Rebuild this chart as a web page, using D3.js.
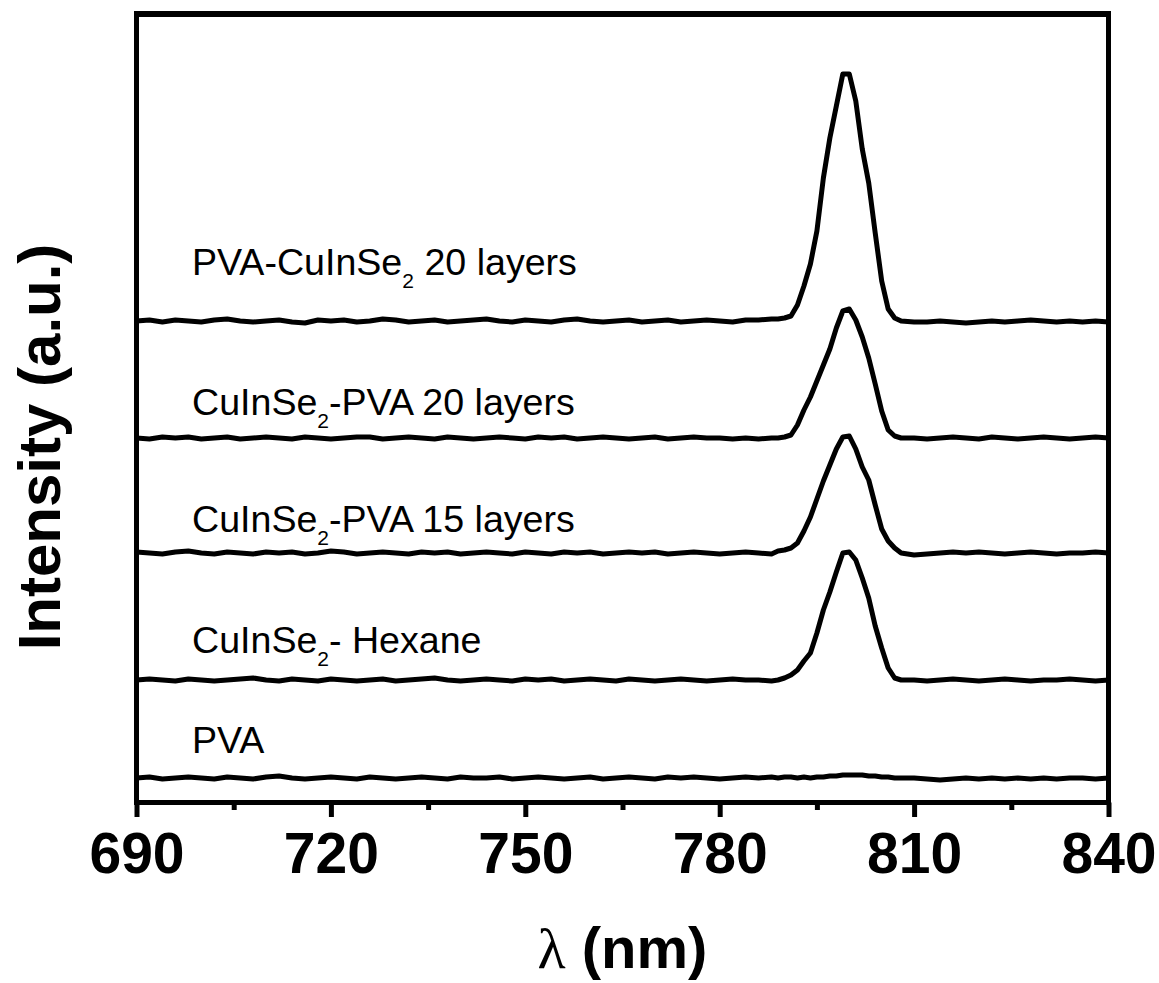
<!DOCTYPE html>
<html>
<head>
<meta charset="utf-8">
<script src="https://cdn.jsdelivr.net/npm/d3@7"></script>
<style>
  html, body { margin: 0; padding: 0; background: #fff; }
  svg { display: block; }
  text { font-family: "Liberation Sans", Arial, Helvetica, sans-serif; fill: #000; }
</style>
</head>
<body>
<svg id="chart" width="1159" height="983"></svg>
<script>
// Photoluminescence spectra, stacked with vertical offsets (a.u.)
const wavelengths = [
  690,692,694,696,698,700,702,704,706,708,710,712,714,716,718,720,722,724,726,728,
  730,732,734,736,738,740,742,744,746,748,750,752,754,756,758,760,762,764,766,768,
  770,772,774,776,778,780,782,784,786,788,
  789,790,791,792,793,794,795,796,797,798,799,800,801,802,803,804,805,806,807,808,
  810,812,814,816,818,820,822,824,826,828,830,832,834,836,838,840
];

const seriesNames = [
  "PVA-CuInSe_2 20 layers",
  "CuInSe_2-PVA 20 layers",
  "CuInSe_2-PVA 15 layers",
  "CuInSe_2- Hexane",
  "PVA"
];

// Vertical offset of each spectrum in the stack
const offsets = [481, 364, 249, 122, 24];

// Level (same units) at which each label's baseline sits
const labelLevels = [527, 387, 270, 149, 49];

const pvaCuInSe20 = [
  0,1,-1,1,0,-1,1,2,0,-1, 0,1,-1,-2,1,0,1,-1,0,2, 1,-1,0,1,-1,0,1,2,0,-1,
  1,0,-1,1,2,0,-1,0,1,-1, 0,1,-1,0,1,0,-1,1,1,2,
  2,3,5,16,35,57,90,143,183,215,247,247,220,172,138,88,40,12,3,0,
  -1,-1,0,-1,-2,-1,0,-1,0,1,0,-1,0,-1,0,-1
];
const cuInSePva20 = [
  0,-1,1,0,1,-1,0,1,-1,0, 1,0,-1,1,0,-1,0,1,1,-1, 0,1,0,-1,1,0,-1,0,1,0,
  -1,1,0,1,-1,0,1,0,-1,0, 1,-1,0,1,0,0,-1,0,-1,0,
  0,1,3,13,28,41,57,73,89,110,127,129,118,101,80,54,27,8,2,0,
  0,-1,0,1,0,-1,1,0,-1,0,1,0,-1,0,1,0
];
const cuInSePva15 = [
  1,0,-1,1,2,0,-1,1,0,-1, 1,0,1,-1,0,2,1,-1,0,1, 0,-1,1,0,1,-1,0,1,0,-1,
  1,0,-1,1,0,1,-1,0,1,0, 1,-1,0,1,0,-1,0,1,0,-1,
  2,3,5,10,22,36,54,72,88,104,116,117,104,86,73,48,24,12,5,0,
  -2,-1,0,1,0,1,0,-1,0,1,0,-1,0,0,1,0
];
const cuInSeHexane = [
  0,1,0,-1,1,0,-1,0,1,2, 0,-1,1,0,-1,1,0,-1,0,1, -1,0,1,2,0,-1,0,1,0,-1,
  1,0,1,-1,0,1,0,-1,1,0, -1,0,1,0,-1,0,1,0,0,-1,
  0,2,5,10,19,27,47,70,88,108,127,128,120,102,82,54,32,12,2,0,
  0,-1,0,1,0,-1,0,1,0,-1,0,0,1,0,-1,0
];
const pvaOnly = [
  0,1,-1,0,1,0,-1,1,0,-1, 1,2,0,-1,0,1,0,-1,1,0, -1,0,1,0,-1,1,0,0,1,-1,
  0,1,0,-1,0,1,-1,0,1,0, -1,1,0,1,0,-1,0,1,0,1,
  0,1,1,0,1,0,1,1,2,2,3,3,3,3,2,2,1,1,0,0,
  0,-1,-2,-1,0,-1,0,-1,0,-1,0,-1,0,0,-1,0
];

const seriesValues = [pvaCuInSe20, cuInSePva20, cuInSePva15, cuInSeHexane, pvaOnly];

const majorTicks = [690, 720, 750, 780, 810, 840];
const minorTicks = [705, 735, 765, 795, 825];

// ---- layout ----
const svg = d3.select("#chart");
const plot = { left: 136.5, right: 1108.5, top: 14, bottom: 802.5 };

const x = d3.scaleLinear().domain([690, 840]).range([plot.left, plot.right]);
const y = d3.scaleLinear().domain([0, 788]).range([802, 14]);

// clip for the spectra
svg.append("defs").append("clipPath").attr("id", "plotClip")
  .append("rect")
  .attr("x", plot.left).attr("y", plot.top)
  .attr("width", plot.right - plot.left).attr("height", plot.bottom - plot.top);

// spectra
const line = d3.line()
  .x(d => x(d[0]))
  .y(d => y(d[1]));

const gLines = svg.append("g").attr("clip-path", "url(#plotClip)");
seriesValues.forEach((vals, i) => {
  const pts = wavelengths.map((w, k) => [w, vals[k] + offsets[i]]);
  gLines.append("path")
    .datum(pts)
    .attr("d", line)
    .attr("fill", "none")
    .attr("stroke", "#000")
    .attr("stroke-width", 5)
    .attr("stroke-linejoin", "round")
    .attr("stroke-linecap", "round");
});

// labels with subscripts ("_2")
seriesNames.forEach((name, i) => {
  const t = svg.append("text")
    .attr("x", 192)
    .attr("y", y(labelLevels[i]))
    .attr("font-size", 37.6);
  const parts = name.split("_");
  t.append("tspan").text(parts[0]);
  for (let p = 1; p < parts.length; p++) {
    const sub = parts[p].charAt(0);
    const rest = parts[p].slice(1);
    t.append("tspan").attr("font-size", 21).attr("dy", 13).text(sub);
    t.append("tspan").attr("dy", -13).text(rest);
  }
});

// frame: top and right sides
svg.append("line")
  .attr("x1", plot.left - 2.5).attr("x2", plot.right + 2.5)
  .attr("y1", plot.top).attr("y2", plot.top)
  .attr("stroke", "#000").attr("stroke-width", 6);
svg.append("line")
  .attr("x1", plot.right).attr("x2", plot.right)
  .attr("y1", plot.top - 3).attr("y2", plot.bottom + 2.5)
  .attr("stroke", "#000").attr("stroke-width", 5);
// left axis line
svg.append("line")
  .attr("x1", plot.left).attr("x2", plot.left)
  .attr("y1", plot.top - 3).attr("y2", plot.bottom + 2.5)
  .attr("stroke", "#000").attr("stroke-width", 5);

// bottom axis with major ticks
const xAxis = d3.axisBottom(x)
  .tickValues(majorTicks)
  .tickSize(14.5)
  .tickSizeOuter(0)
  .tickFormat(d3.format("d"));

const gx = svg.append("g")
  .attr("transform", `translate(0,${plot.bottom})`)
  .call(xAxis);
gx.select(".domain")
  .attr("stroke", "#000").attr("stroke-width", 5)
  .attr("d", `M${plot.left - 2.5},0H${plot.right + 2.5}`);
gx.selectAll(".tick line").attr("stroke", "#000").attr("stroke-width", 5);
gx.selectAll(".tick text")
  .attr("y", 70.5).attr("dy", null)
  .attr("font-size", 57).attr("font-weight", "bold")
  .attr("font-family", "'Liberation Sans', Arial, sans-serif")
  .attr("fill", "#000");

// minor ticks
const xMinor = d3.axisBottom(x)
  .tickValues(minorTicks)
  .tickSize(7.5)
  .tickSizeOuter(0)
  .tickFormat("");
const gxm = svg.append("g")
  .attr("transform", `translate(0,${plot.bottom})`)
  .call(xMinor);
gxm.select(".domain").remove();
gxm.selectAll(".tick line").attr("stroke", "#000").attr("stroke-width", 5);

// axis titles
const xt = svg.append("text")
  .attr("x", (plot.left + plot.right) / 2)
  .attr("y", 968)
  .attr("text-anchor", "middle")
  .attr("font-size", 58)
  .attr("font-weight", "bold");
xt.append("tspan").attr("font-family", "'Liberation Serif', 'DejaVu Serif', serif")
  .attr("font-weight", "normal").text("λ");
xt.append("tspan").text(" (nm)");

svg.append("text")
  .attr("transform", "translate(60,447) rotate(-90)")
  .attr("text-anchor", "middle")
  .attr("font-size", 60)
  .attr("font-weight", "bold")
  .text("Intensity (a.u.)");
</script>
</body>
</html>
